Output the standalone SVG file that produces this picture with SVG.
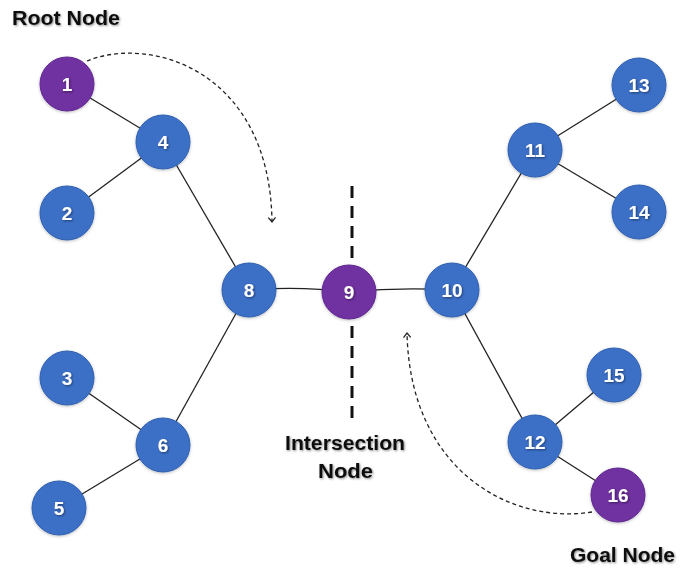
<svg xmlns="http://www.w3.org/2000/svg" width="682" height="568" viewBox="0 0 682 568">
<defs>
<filter id="glow" x="-30%" y="-30%" width="160%" height="160%">
<feDropShadow dx="0" dy="1" stdDeviation="1.5" flood-color="#000" flood-opacity="0.25"/>
</filter>
<filter id="ts" x="-20%" y="-20%" width="140%" height="140%">
<feDropShadow dx="1" dy="1" stdDeviation="0.8" flood-color="#000" flood-opacity="0.45"/>
</filter>
<marker id="arr" viewBox="0 0 10 10" refX="8" refY="5" markerWidth="9" markerHeight="9" orient="auto" markerUnits="userSpaceOnUse">
<path d="M3,1 L8,5 L3,9" fill="none" stroke="#222" stroke-width="1.4"/>
</marker>
</defs>
<style>
.b{fill:#3b6fc6;stroke:#2f5fae;stroke-width:1}
.p{fill:#7030a0;stroke:#5f2690;stroke-width:1}
.n{font-family:"Liberation Sans",Arial,sans-serif;font-weight:bold;font-size:19px;fill:#fff;text-anchor:middle}
.lbl{font-family:"Liberation Sans",Arial,sans-serif;font-weight:bold;font-size:20px;fill:#111}
.e{stroke:#222;stroke-width:1.3;fill:none}
.d{stroke:#222;stroke-width:1.3;fill:none;stroke-dasharray:4 3}
</style>
<rect width="682" height="568" fill="#fff"/>
<g id="connectors">
<line class="e" x1="67" y1="84" x2="163" y2="142"/>
<line class="e" x1="163" y1="142" x2="67" y2="213"/>
<line class="e" x1="163" y1="142" x2="249" y2="290"/>
<line class="e" x1="249" y1="290" x2="163" y2="445"/>
<line class="e" x1="163" y1="445" x2="67" y2="378"/>
<line class="e" x1="163" y1="445" x2="59" y2="508"/>
<path class="e" d="M249,290 Q300,286 349,292"/>
<path class="e" d="M349,292 Q400,287 452,290"/>
<line class="e" x1="452" y1="290" x2="535" y2="150"/>
<line class="e" x1="535" y1="150" x2="639" y2="85"/>
<line class="e" x1="535" y1="150" x2="639" y2="212"/>
<line class="e" x1="452" y1="290" x2="535" y2="442"/>
<line class="e" x1="535" y1="442" x2="614" y2="375"/>
<line class="e" x1="535" y1="442" x2="618" y2="495"/>
<path class="d" d="M87,61 C150,35 270,70 272,222" marker-end="url(#arr)"/>
<path class="d" d="M592,512 C510,525 410,470 407,333" marker-end="url(#arr)"/>
<line x1="352" y1="186" x2="352" y2="420" stroke="#111" stroke-width="3" stroke-dasharray="12 8"/>
</g>
<g id="n1" filter="url(#glow)"><circle class="p" cx="67" cy="84" r="27"/><text class="n" x="67" y="91" filter="url(#ts)">1</text></g>
<g id="n4" filter="url(#glow)"><circle class="b" cx="163" cy="142" r="27"/><text class="n" x="163" y="149" filter="url(#ts)">4</text></g>
<g id="n2" filter="url(#glow)"><circle class="b" cx="67" cy="213" r="27"/><text class="n" x="67" y="220" filter="url(#ts)">2</text></g>
<g id="n8" filter="url(#glow)"><circle class="b" cx="249" cy="290" r="27"/><text class="n" x="249" y="297" filter="url(#ts)">8</text></g>
<g id="n9" filter="url(#glow)"><circle class="p" cx="349" cy="292" r="27"/><text class="n" x="349" y="299" filter="url(#ts)">9</text></g>
<g id="n10" filter="url(#glow)"><circle class="b" cx="452" cy="290" r="27"/><text class="n" x="452" y="297" filter="url(#ts)">10</text></g>
<g id="n3" filter="url(#glow)"><circle class="b" cx="67" cy="378" r="27"/><text class="n" x="67" y="385" filter="url(#ts)">3</text></g>
<g id="n6" filter="url(#glow)"><circle class="b" cx="163" cy="445" r="27"/><text class="n" x="163" y="452" filter="url(#ts)">6</text></g>
<g id="n5" filter="url(#glow)"><circle class="b" cx="59" cy="508" r="27"/><text class="n" x="59" y="515" filter="url(#ts)">5</text></g>
<g id="n11" filter="url(#glow)"><circle class="b" cx="535" cy="150" r="27"/><text class="n" x="535" y="157" filter="url(#ts)">11</text></g>
<g id="n13" filter="url(#glow)"><circle class="b" cx="639" cy="85" r="27"/><text class="n" x="639" y="92" filter="url(#ts)">13</text></g>
<g id="n14" filter="url(#glow)"><circle class="b" cx="639" cy="212" r="27"/><text class="n" x="639" y="219" filter="url(#ts)">14</text></g>
<g id="n15" filter="url(#glow)"><circle class="b" cx="614" cy="375" r="27"/><text class="n" x="614" y="382" filter="url(#ts)">15</text></g>
<g id="n12" filter="url(#glow)"><circle class="b" cx="535" cy="442" r="27"/><text class="n" x="535" y="449" filter="url(#ts)">12</text></g>
<g id="n16" filter="url(#glow)"><circle class="p" cx="618" cy="495" r="27"/><text class="n" x="618" y="502" filter="url(#ts)">16</text></g>
<g id="labels" filter="url(#ts)">
<text class="lbl" x="12" y="25" textLength="108" lengthAdjust="spacingAndGlyphs">Root Node</text>
<text class="lbl" x="285" y="450" textLength="120" lengthAdjust="spacingAndGlyphs">Intersection</text>
<text class="lbl" x="318" y="478" textLength="55" lengthAdjust="spacingAndGlyphs">Node</text>
<text class="lbl" x="570" y="562" textLength="105" lengthAdjust="spacingAndGlyphs">Goal Node</text>
</g>
</svg>
